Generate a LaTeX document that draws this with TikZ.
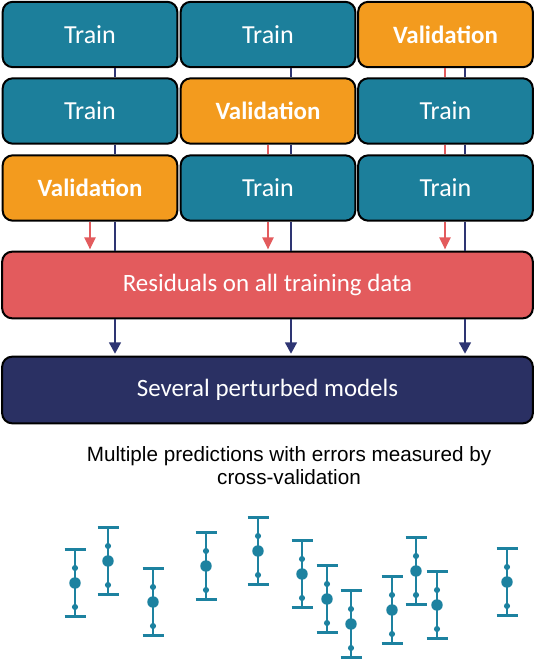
\documentclass[tikz,border=0pt]{standalone}
\usepackage{fontspec}
\setmainfont{Carlito}
\newfontfamily\arialfont{Liberation Sans}
\usetikzlibrary{arrows.meta}
\definecolor{teal}{HTML}{1C7F9B}
\definecolor{orng}{HTML}{F39B1E}
\definecolor{resred}{HTML}{E35B5D}
\definecolor{navy}{HTML}{2A3063}
\definecolor{linenavy}{HTML}{2E3573}
\definecolor{bar}{HTML}{1D82A0}
\begin{document}
\begin{tikzpicture}[x=0.75pt,y=-0.75pt,
  box/.style={draw=black,line width=1.5pt,rounded corners=7.5pt,text=white,
    minimum width=131pt,minimum height=49pt,inner sep=0pt,
    font=\fontsize{19.5}{23}\selectfont},
  trainbox/.style={box,fill=teal},
  valbox/.style={box,fill=orng,font=\fontsize{18.7}{22}\selectfont\bfseries},
  widebox/.style={draw=black,line width=1.5pt,rounded corners=7.5pt,text=white,
    minimum width=398pt,minimum height=50pt,inner sep=0pt,
    font=\fontsize{18.7}{22}\selectfont},
  navyline/.style={draw=linenavy,line width=1.1pt},
  redline/.style={draw=resred,line width=1.1pt},
  navyarrow/.style={navyline,-{Triangle[width=9pt,length=8.5pt]}},
  redarrow/.style={redline,-{Triangle[width=8.5pt,length=9pt]}},
  ebar/.style={draw=bar,line width=1.6pt},
  bigdot/.style={fill=bar},
]
\useasboundingbox (0,0) rectangle (535,660);

% grid of boxes
\node[trainbox] (b11) at (90,34.5) {Train};
\node[trainbox] (b12) at (268,34.5) {Train};
\node[valbox]   (b13) at (445.5,34.5) {Validation};
\node[trainbox] (b21) at (90,111) {Train};
\node[valbox]   (b22) at (268,111) {Validation};
\node[trainbox] (b23) at (445.5,111) {Train};
\node[valbox]   (b31) at (90,188) {Validation};
\node[trainbox] (b32) at (268,188) {Train};
\node[trainbox] (b33) at (445.5,188) {Train};

\node[widebox,fill=resred] (res) at (267.5,285) {Residuals on all training data};
\node[widebox,fill=navy] (mod) at (267.5,390) {Several perturbed models};

% x positions of connectors
\coordinate (n1) at (115,0);
\coordinate (n2) at (291,0);
\coordinate (n3) at (465,0);
\coordinate (r1) at (90,0);
\coordinate (r2) at (268,0);
\coordinate (r3) at (445,0);

% navy connectors
\draw[navyline] (b11.south -| n1) -- (b21.north -| n1);
\draw[navyline] (b21.south -| n1) -- (b31.north -| n1);
\draw[navyline] (b31.south -| n1) -- (res.north -| n1);
\draw[navyline] (b12.south -| n2) -- (b22.north -| n2);
\draw[navyline] (b22.south -| n2) -- (b32.north -| n2);
\draw[navyline] (b32.south -| n2) -- (res.north -| n2);
\draw[navyline] (b13.south -| n3) -- (b23.north -| n3);
\draw[navyline] (b23.south -| n3) -- (b33.north -| n3);
\draw[navyline] (b33.south -| n3) -- (res.north -| n3);

% red connectors
\draw[redline] (b13.south -| r3) -- (b23.north -| r3);
\draw[redline] (b23.south -| r3) -- (b33.north -| r3);
\draw[redarrow] (b33.south -| r3) -- ([yshift=1pt]res.north -| r3);
\draw[redline] (b22.south -| r2) -- (b32.north -| r2);
\draw[redarrow] (b32.south -| r2) -- ([yshift=1pt]res.north -| r2);
\draw[redarrow] (b31.south -| r1) -- ([yshift=1pt]res.north -| r1);

% residuals to models
\draw[navyarrow] (res.south -| n1) -- ([yshift=1.5pt]mod.north -| n1);
\draw[navyarrow] (res.south -| n2) -- ([yshift=1.5pt]mod.north -| n2);
\draw[navyarrow] (res.south -| n3) -- ([yshift=1.5pt]mod.north -| n3);

% caption
\node[align=center,font=\arialfont\fontsize{15.5}{17.3}\selectfont,inner sep=0pt] (cap) at (289,466)
  {Multiple predictions with errors measured by\\cross-validation};

% error bars: x, centre y
\foreach \x/\c in {75/583, 108/561, 153/602, 206/566, 258/551, 302/574, 327/599,
                   351/624, 392/610, 416/571, 437/605, 507/582} {
  \draw[ebar] (\x,\c-33.5) -- (\x,\c+33.5);
  \draw[ebar] (\x-10.5,\c-33.5) -- (\x+10.5,\c-33.5);
  \draw[ebar] (\x-10.5,\c+33.5) -- (\x+10.5,\c+33.5);
  \fill[bigdot] (\x,\c) circle (4.3pt);
  \fill[bigdot] (\x,\c-15) circle (2.3pt);
  \fill[bigdot] (\x,\c+24) circle (2.3pt);
}
\end{tikzpicture}
\end{document}
